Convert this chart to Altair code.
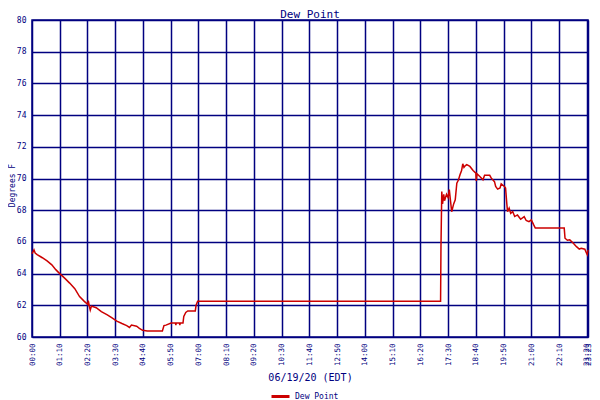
import altair as alt
import pandas as pd

# time of day in minutes after midnight
minutes = [0, 5, 8, 13, 26, 38, 50, 60, 70, 83, 95, 108, 120, 132, 141, 142, 145, 147, 150,
           162, 175, 190, 202, 214, 227, 239, 246, 251, 264, 271, 279, 291, 329, 333, 338,
           351, 362, 363, 364, 372, 373, 374, 381, 383, 388, 393, 412, 414, 418,
           1031, 1032, 1034, 1036, 1039, 1041, 1046, 1050, 1053, 1056, 1059, 1064, 1068,
           1072, 1076, 1080, 1084, 1087, 1090, 1093, 1097, 1105, 1113, 1120, 1121, 1123,
           1130, 1138, 1142, 1155, 1159, 1167, 1170, 1175, 1181, 1184, 1192, 1195, 1198,
           1200, 1204, 1208, 1213, 1218, 1225, 1233, 1242, 1247, 1254, 1260, 1266, 1270,
           1343, 1345, 1351, 1357, 1366, 1374, 1381, 1386, 1395, 1399, 1401, 1403]
dew_point = [65.25, 65.5, 65.3, 65.2, 65.0, 64.8, 64.55, 64.25, 64.0, 63.7, 63.4, 63.05, 62.55,
             62.25, 62.05, 62.3, 61.9, 61.7, 61.95,
             61.85, 61.6, 61.4, 61.2, 61.0, 60.85, 60.72, 60.6, 60.75, 60.68, 60.55, 60.42, 60.38,
             60.38, 60.72, 60.75,
             60.88, 60.88, 60.75, 60.88, 60.88, 60.75, 60.88, 60.88, 61.3, 61.55, 61.64, 61.64,
             62.0, 62.25,
             62.25, 65.7, 69.18, 68.4, 69.0, 68.6, 69.0, 68.8, 69.3, 68.6, 67.9, 68.4, 68.65,
             69.7, 69.9, 70.23, 70.5, 70.93, 70.7, 70.8, 70.87, 70.76, 70.5, 70.34, 69.85, 70.3,
             70.13, 69.92, 70.2, 70.2, 70.02, 69.8, 69.5, 69.33, 69.4, 69.66, 69.5, 69.4, 68.45,
             67.9, 68.13, 67.8, 67.92, 67.6, 67.7, 67.43, 67.6, 67.35, 67.28, 67.39, 67.07, 66.87,
             66.87, 66.23, 66.1, 66.13, 65.92, 65.7, 65.55, 65.6, 65.54, 65.3, 65.2, 65.5]

x_tick_labels = ["00:00", "01:10", "02:20", "03:30", "04:40", "05:50", "07:00", "08:10",
                 "09:20", "10:30", "11:40", "12:50", "14:00", "15:10", "16:20", "17:30",
                 "18:40", "19:50", "21:00", "22:10", "23:20", "23:23"]
y_ticks = [60, 62, 64, 66, 68, 70, 72, 74, 76, 78, 80]
series_name = "Dew Point"

x_tick_values = [int(s[:2]) * 60 + int(s[3:]) for s in x_tick_labels]

df = pd.DataFrame({"t": minutes, "v": dew_point, "series": series_name})

NAVY = "#000080"
RED = "#cc0000"
FONT = "DejaVu Sans Mono"

label_expr = ("(floor(datum.value/60) < 10 ? '0' : '') + floor(datum.value/60) + ':' + "
              "(datum.value % 60 < 10 ? '0' : '') + (datum.value % 60)")

chart = alt.Chart(df).mark_line(strokeWidth=1.5, interpolate="linear").encode(
    x=alt.X("t:Q",
            scale=alt.Scale(domain=[0, x_tick_values[-1]], nice=False, zero=False),
            axis=alt.Axis(values=x_tick_values, labelExpr=label_expr, labelAngle=270,
                          labelAlign="right", labelBaseline="middle", labelPadding=6,
                          labelOverlap=False, labelFlush=False, labelFontSize=7.5,
                          title="06/19/20 (EDT)", titleFontSize=10, titlePadding=7,
                          titleFontWeight="normal", domain=False, ticks=False)),
    y=alt.Y("v:Q",
            scale=alt.Scale(domain=[60, 80], nice=False, zero=False),
            axis=alt.Axis(values=y_ticks, labelFontSize=8, labelPadding=6,
                          title="Degrees F", titleFontSize=8, titleFontWeight="normal",
                          titleAngle=270, titleX=-20, titleY=165, titleAlign="center",
                          titleBaseline="middle", domain=False, ticks=False)),
    color=alt.Color("series:N",
                    scale=alt.Scale(domain=[series_name], range=[RED]),
                    legend=alt.Legend(orient="none", legendX=238, legendY=366, title=None,
                                      symbolType="stroke", symbolSize=324,
                                      symbolStrokeWidth=3, labelFont=FONT, labelFontSize=8,
                                      labelColor=NAVY, direction="horizontal")),
).properties(
    width=556,
    height=317,
    autosize=alt.AutoSizeParams(type="none"),
    padding={"left": 24, "top": 12, "right": 4, "bottom": 66},
    title=alt.TitleParams(series_name, font=FONT, fontSize=11, color=NAVY,
                          fontWeight="normal", anchor="middle", offset=0, dy=4),
).configure_axis(
    grid=True, gridColor=NAVY, gridOpacity=1, gridWidth=1.5,
    labelColor=NAVY, labelFont=FONT, titleColor=NAVY, titleFont=FONT,
).configure_view(
    stroke=NAVY, strokeWidth=1.5
)

chart.save("out.html", embed_options={"renderer": "svg", "actions": False})
